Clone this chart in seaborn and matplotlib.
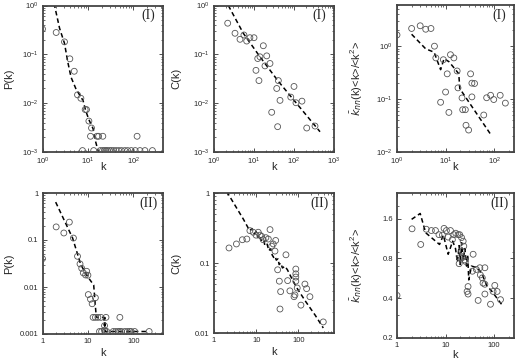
import numpy as np
import pandas as pd
import matplotlib
matplotlib.use("Agg")
import matplotlib.pyplot as plt
import matplotlib.ticker as mticker
import seaborn as sns

sns.set_style("ticks")
plt.rcParams["font.family"] = ["Liberation Sans", "DejaVu Sans"]
plt.rcParams["mathtext.fontset"] = "custom"
plt.rcParams["mathtext.rm"] = "Liberation Sans"

# ---- panel (I) P(k) ----
p1_k = [1, 2.0, 3.05, 4.0, 5.0, 5.9, 7.0, 8.7, 9.3, 10.5, 12, 11.4, 15.9, 17.2, 21.3, 121,
        7.6, 13.4, 18.7, 21, 23, 25, 27, 30, 33, 37, 42, 48, 55, 65, 75, 90, 110, 140, 180, 263]
p1_p = [0.33, 0.28, 0.18, 0.081, 0.045, 0.0148, 0.0126, 0.0074, 0.0074, 0.0043, 0.0031, 0.0021,
        0.0021, 0.0021, 0.0021, 0.0021] + [0.00107] * 20
p1_fit_k = [1.8, 2.38, 3.05, 3.6, 4.25, 5.4, 7.0, 7.8, 8.9, 10.5, 13, 14.6, 17.0]
p1_fit_p = [1.1, 0.34, 0.168, 0.07, 0.034, 0.02, 0.0133, 0.0114, 0.0071, 0.0046, 0.0030, 0.0017, 0.001]

# ---- panel (I) C(k) ----
p2_k = [2.2, 3.35, 4.47, 5.6, 6.56, 7.9, 10, 17.1, 12.4, 14.1, 20.8, 18.8, 25.1, 11.2, 13.3,
        40.6, 37, 100, 44.7, 83, 112, 158, 27.7, 39, 208, 335]
p2_c = [0.434, 0.27, 0.203, 0.249, 0.187, 0.219, 0.219, 0.15, 0.082, 0.089, 0.093, 0.058, 0.065,
        0.047, 0.029, 0.029, 0.020, 0.022, 0.0114, 0.0133, 0.0102, 0.011, 0.0065, 0.0033, 0.0031, 0.0034]
p2_fit_k = [2.28, 5.4, 14.1, 40.6, 117, 447]
p2_fit_c = [1.0, 0.27, 0.089, 0.028, 0.0098, 0.0026]

# ---- panel (I) knn ----
p3_k = [1, 2.0, 3.0, 3.9, 5.0, 5.9, 6.3, 9.0, 12.6, 14.8, 17.3, 10.8, 32.7, 34.8, 39.5, 18, 10,
        21.8, 34.8, 7.9, 11.7, 22.5, 25.5, 26.3, 29.8, 61, 70, 84.5, 98, 133, 170]
p3_v = [1.63, 2.16, 2.43, 2.09, 2.16, 1.0, 0.6, 0.555, 0.69, 0.6, 0.34, 0.3, 0.3, 0.2, 0.197, 0.163,
        0.136, 0.105, 0.11, 0.087, 0.056, 0.063, 0.063, 0.032, 0.026, 0.05, 0.106, 0.118, 0.098, 0.118, 0.084]
p3_fit_k = [2.0, 3.9, 5.8, 7.9, 9.3, 11.7, 16, 18.7, 19.6, 84.5]
p3_fit_v = [1.68, 0.89, 0.77, 0.36, 0.58, 0.51, 0.36, 0.3, 0.158, 0.0216]

# ---- panel (II) P(k) ----
p4_k = [1, 2.0, 2.95, 3.9, 4.8, 5.9, 6.7, 7.3, 7.9, 8.9, 9.4, 10, 10.2, 11.4, 12.4, 14.6,
        13, 14.6, 16.6, 19.3, 25, 50.5, 23.2, 23.2,
        18, 20, 24, 26, 36, 41, 46.5, 50.5, 55, 65, 74, 83, 90, 107, 223]
p4_p = [0.04, 0.19, 0.141, 0.24, 0.11, 0.045, 0.031, 0.025, 0.02, 0.018, 0.0216, 0.0178, 0.0069,
        0.0055, 0.0044, 0.0059, 0.00226, 0.00226, 0.00226, 0.00226, 0.00226, 0.00226, 0.0015, 0.0012] \
    + [0.00113] * 15
p4_fit_k = [1.95, 4.6, 6.95, 9.7, 13.4, 15.3, 22, 23.2, 23.4, 23.9, 30, 45, 60, 80, 110, 223]
p4_fit_p = [0.64, 0.11, 0.03, 0.017, 0.011, 0.00226, 0.00226, 0.0015, 0.00226, 0.00113,
            0.00113, 0.00113, 0.00113, 0.00113, 0.00113, 0.00113]

# ---- panel (II) C(k) ----
p5_k = [2.27, 3.4, 4.7, 6.0, 7.1, 8.5, 9.9, 11.2, 12.3, 13.5, 14.7, 17, 19.4, 21.3, 23.3, 25.4,
        29, 27.9, 50.8, 32.3, 35.4, 38, 36.7, 55.7, 63, 79, 83, 87, 87, 87, 87, 94, 115, 143, 157, 188, 390]
p5_c = [0.164, 0.187, 0.215, 0.22, 0.29, 0.275, 0.25, 0.275, 0.25, 0.24, 0.215, 0.23, 0.22, 0.3,
        0.174, 0.187, 0.21, 0.148, 0.131, 0.08, 0.055, 0.039, 0.022, 0.056, 0.040, 0.033, 0.035,
        0.082, 0.07, 0.063, 0.055, 0.044, 0.025, 0.05, 0.043, 0.033, 0.0144]
p5_fit_k = [2.0, 5, 7, 8, 9, 10, 11, 12, 13, 15, 16, 18, 20, 22, 24, 26, 28, 30, 33, 35, 38, 42,
            48, 55, 70, 90, 150, 250, 390]
p5_fit_c = [1.05, 0.42, 0.29, 0.31, 0.26, 0.28, 0.23, 0.25, 0.21, 0.22, 0.18, 0.19, 0.15, 0.16,
            0.13, 0.12, 0.125, 0.11, 0.115, 0.095, 0.10, 0.085, 0.09, 0.08, 0.06, 0.045, 0.028,
            0.018, 0.0118]

# ---- panel (II) knn ----
p6_k = [1, 2.04, 3.08, 4.0, 5.1, 6.2, 7.3, 8.6, 9.3, 10.4, 12.6, 11.3, 13.8, 14.8, 16.2, 18.1,
        19.5, 21.3, 23, 23.7, 21.3, 19.5, 21.9, 24.8, 25.6, 19, 36.9, 29, 27.7, 29, 35.6, 43, 50.7,
        64.4, 52, 57, 59, 64.4, 46.8, 64.4, 84, 95, 103, 115, 135]
p6_v = [0.42, 1.34, 1.02, 1.33, 1.3, 1.3, 1.21, 1.2, 1.35, 1.3, 1.3, 1.16, 1.11, 1.21, 1.24, 1.21,
        1.21, 1.15, 1.08, 0.99, 0.91, 0.81, 0.81, 0.78, 0.76, 0.73, 0.86, 0.49, 0.45, 0.43, 0.64,
        0.66, 0.68, 0.68, 0.6, 0.57, 0.52, 0.51, 0.385, 0.43, 0.36, 0.45, 0.5, 0.45, 0.39]
p6_fit_k = [2, 3, 3.9, 7.5, 9, 11.3, 14, 16, 17.5, 19, 20, 21.5, 23, 25, 27, 28.5, 30, 32, 34,
            45, 55, 70, 90, 150]
p6_fit_v = [1.58, 1.75, 1.25, 1.02, 1.2, 0.86, 1.08, 0.95, 0.75, 1.0, 0.72, 1.05, 0.78, 0.95,
            0.7, 0.85, 0.55, 0.62, 0.7, 0.68, 0.62, 0.5, 0.45, 0.35]

W, H = 519, 363
fig = plt.figure(figsize=(W / 100, H / 100), dpi=100)


def make_ax(left, right, top, bottom):
    return fig.add_axes([left / W, 1 - bottom / H, (right - left) / W, (bottom - top) / H])


def panel(ax, k, v, fk, fv, xlim, ylim, ylab, tag, ylab_x, xlab_y, sci=True):
    sns.lineplot(x=fk, y=fv, ax=ax, sort=False, estimator=None, color="black",
                 lw=1.1, dashes=False, linestyle=(0, (3, 2)))
    sns.scatterplot(x=k, y=v, ax=ax, marker="o", s=18, color="#555555", linewidth=0.6, zorder=3)
    pts = ax.collections[-1]
    pts.set_facecolor("none")
    pts.set_edgecolor("#555555")
    ax.set_xscale("log")
    ax.set_yscale("log")
    ax.set_xlim(*xlim)
    ax.set_ylim(*ylim)
    ax.set_xlabel("k", fontsize=8)
    ax.set_ylabel(ylab, fontsize=8)
    ax.yaxis.set_label_coords(ylab_x, 0.5)
    ax.xaxis.set_label_coords(0.5, xlab_y)
    ax.tick_params(which="both", direction="in", top=True, right=True, labelsize=5.5, pad=3,
                   color="#333333")
    ax.tick_params(which="major", length=3, width=0.6)
    ax.tick_params(which="minor", length=1.6, width=0.5)
    if not sci:
        ax.xaxis.set_major_formatter(mticker.FuncFormatter(lambda x, p: "%g" % x))
        ax.yaxis.set_major_formatter(mticker.FuncFormatter(lambda x, p: "%g" % x))
    for s in ax.spines.values():
        s.set_linewidth(1.3)
        s.set_color("#444444")
    ax.text(0.88, 0.93, tag, transform=ax.transAxes, ha="center", va="center",
            fontsize=10, family=["Liberation Serif", "DejaVu Serif"])


ax1 = make_ax(42.5, 163, 5.5, 152)
panel(ax1, p1_k, p1_p, p1_fit_k, p1_fit_p, (1, 450), (1e-3, 1), "P(k)", "(I)", -0.236, -0.07)
ax2 = make_ax(214, 334, 5.5, 152)
panel(ax2, p2_k, p2_c, p2_fit_k, p2_fit_c, (1, 1000), (1e-3, 1), "C(k)", "(I)", -0.27, -0.07)
ax3 = make_ax(397, 513.5, 5, 152)
panel(ax3, p3_k, p3_v, p3_fit_k, p3_fit_v, (1, 250), (1e-2, 6),
      r"$\bar{k}_{nn}$(k)<k>/<k$^{2}$>", "(I)", -0.275, -0.07)
ax4 = make_ax(42.5, 163, 193, 334)
panel(ax4, p4_k, p4_p, p4_fit_k, p4_fit_p, (1, 450), (1e-3, 1), "P(k)", "(II)", -0.236, -0.1,
      sci=False)
ax5 = make_ax(214, 334, 193, 333)
panel(ax5, p5_k, p5_c, p5_fit_k, p5_fit_c, (1, 700), (1e-2, 1), "C(k)", "(II)", -0.27, -0.1,
      sci=False)
ax6 = make_ax(397, 513.5, 193, 338)
panel(ax6, p6_k, p6_v, p6_fit_k, p6_fit_v, (1, 250), (0.2, 2.5),
      r"$\bar{k}_{nn}$(k)<k>/<k$^{2}$>", "(II)", -0.275, -0.08, sci=False)
ax6.set_yticks([0.2, 0.4, 0.8, 1.6])
ax6.yaxis.set_minor_formatter(mticker.NullFormatter())
ax6.yaxis.set_major_formatter(mticker.FuncFormatter(lambda x, p: "%g" % x))

fig.savefig("out.png", dpi=100)
